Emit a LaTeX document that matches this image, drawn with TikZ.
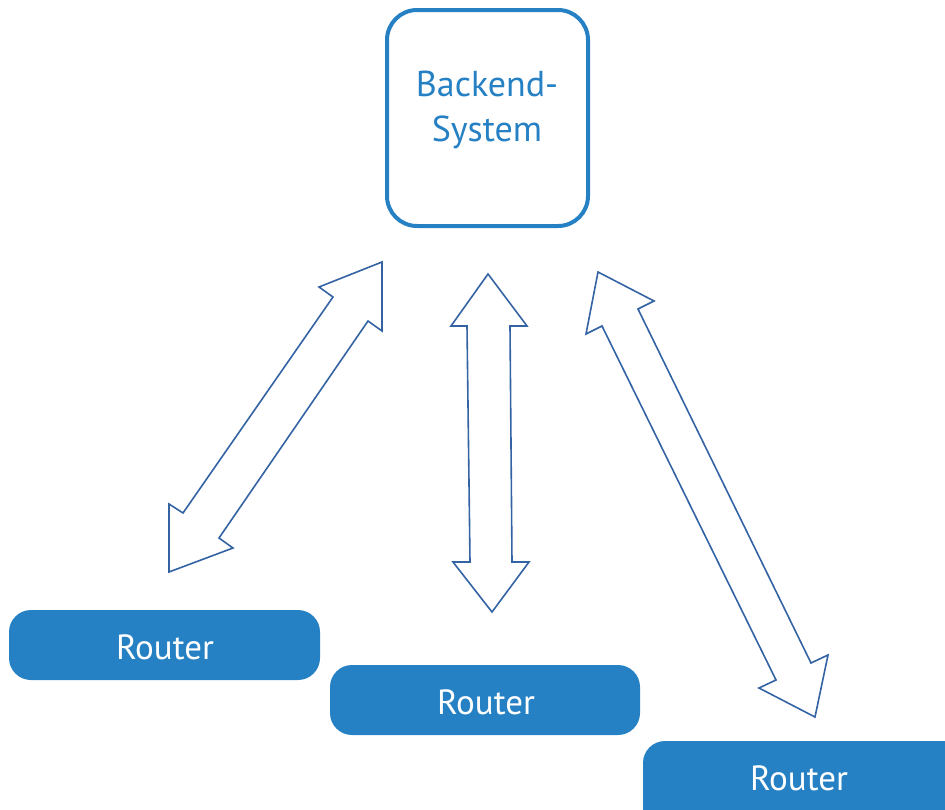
\documentclass[tikz,border=0pt]{standalone}
\usepackage{fontspec}
\setmainfont{PT Sans}
\begin{document}
\begin{tikzpicture}[x=1pt,y=-1pt,
  blueline/.style={draw=arrowblue,line width=1.6pt,line join=miter},
  backendbox/.style={draw=boxblue,line width=4pt,rounded corners=30pt,fill=white},
  routerbox/.style={fill=boxblue,rounded corners=22pt},
  boxlabel/.style={font=\fontsize{36}{45}\selectfont,text=boxblue,align=center},
  routerlabel/.style={font=\fontsize{35}{42}\selectfont,text=white}]
\definecolor{boxblue}{RGB}{38,129,196}
\definecolor{arrowblue}{RGB}{52,99,164}
\useasboundingbox (0,0) rectangle (945,809);
\clip (0,0) rectangle (945,809);

% Backend system
\draw[backendbox] (387,10) rectangle (588,226);
\node[boxlabel] (backend) at (487,110) {Backend-\\System};

% Routers
\fill[routerbox] (9,610) rectangle (320,680);
\node[routerlabel] (r1) at (165,647) {Router};
\fill[routerbox] (330,665) rectangle (640,735);
\node[routerlabel] (r2) at (486,702) {Router};
\fill[routerbox] (643,741) rectangle (975,830);
\node[routerlabel] (r3) at (799,778) {Router};

% Left double arrow
\coordinate (lt) at (382,262);
\coordinate (lb) at (169,572);
\draw[blueline] (lt) -- (382,331) -- (368,321) -- (219,538) -- (233,548)
  -- (lb) -- (169,504) -- (183,513) -- (333,297) -- (319,287) -- cycle;

% Middle double arrow
\coordinate (mt) at (488,274);
\coordinate (mb) at (492,612);
\draw[blueline] (mt) -- (527,326) -- (510,326) -- (512,562) -- (529,562)
  -- (mb) -- (453,562) -- (470,562) -- (467,326) -- (451,326) -- cycle;

% Right double arrow
\coordinate (rt) at (598,272);
\coordinate (rb) at (815,717);
\draw[blueline] (rt) -- (654,301) -- (638,309) -- (811,663) -- (828,655)
  -- (rb) -- (759,688) -- (776,680) -- (602,326) -- (586,334) -- cycle;
\end{tikzpicture}
\end{document}
